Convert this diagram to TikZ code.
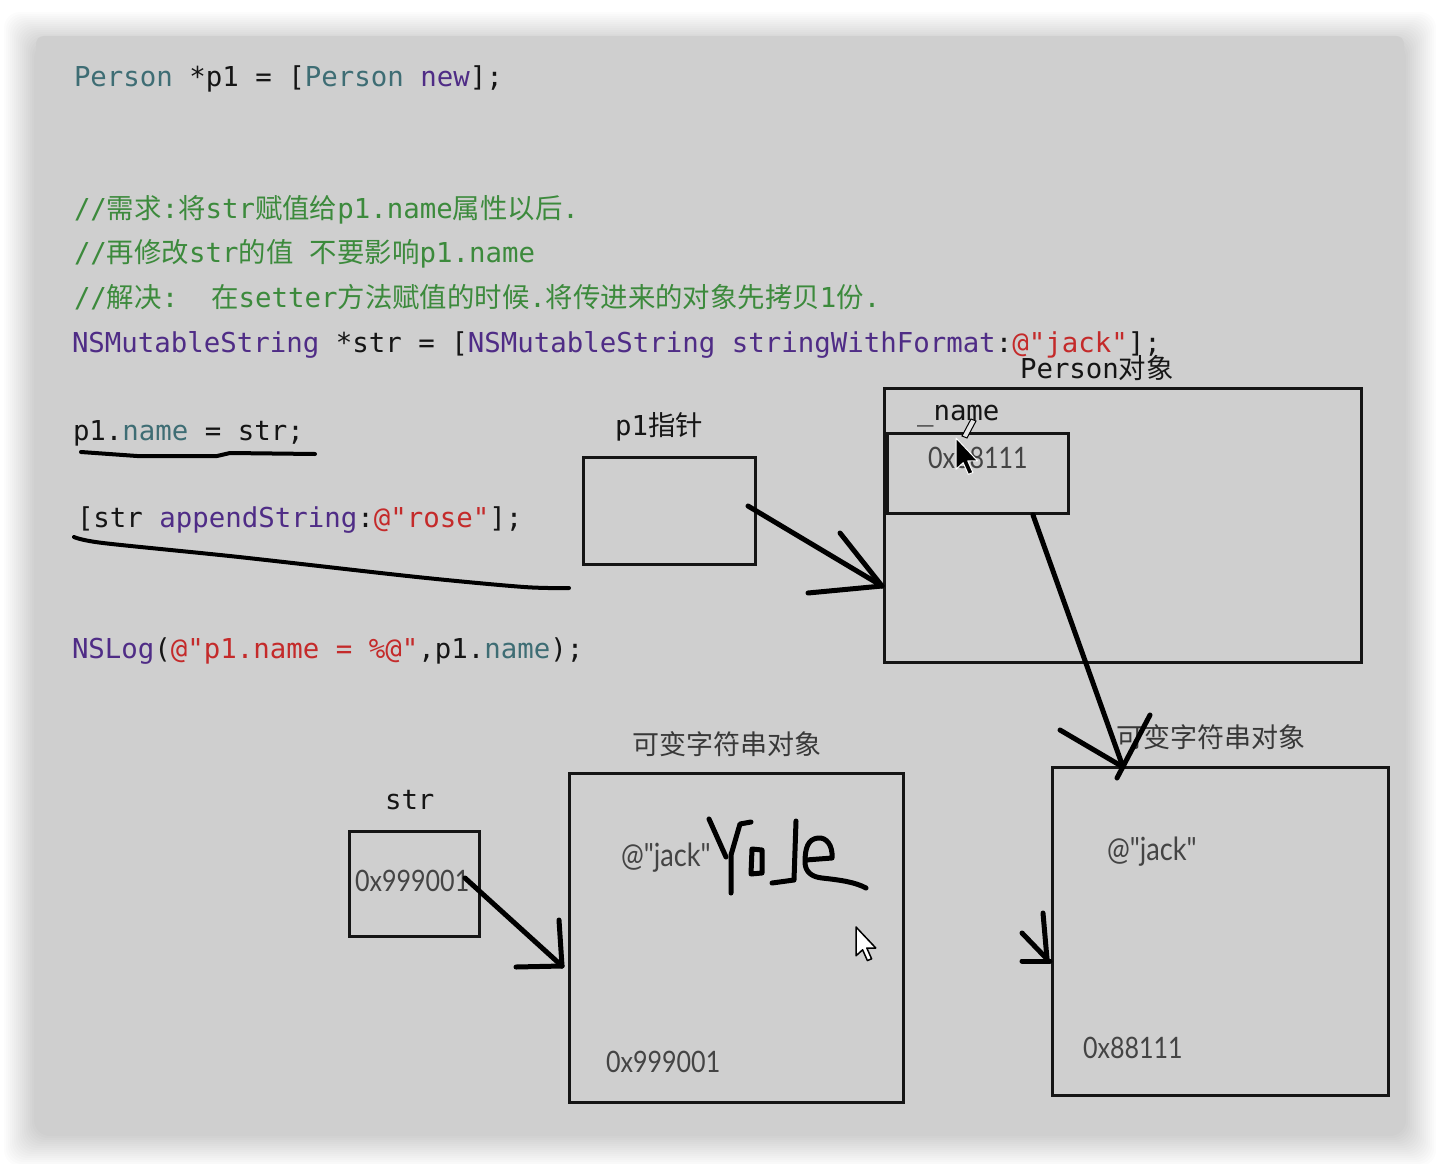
\documentclass[tikz,border=0pt]{standalone}
\usepackage{fontspec}
\usepackage{xcolor}
\newfontfamily\codefont{DejaVu Sans Mono}
\newfontfamily\cjkfont{Noto Sans CJK SC}
\newfontfamily\handfont[FakeStretch=0.85]{Lato}
\newcommand{\zhc}[1]{{\cjkfont #1}}

\definecolor{panel}{HTML}{CFCFCF}
\definecolor{ink}{HTML}{151515}
\definecolor{cteal}{HTML}{3E6D74}
\definecolor{cpurp}{HTML}{4F2C86}
\definecolor{cred}{HTML}{C42A2A}
\definecolor{cgreen}{HTML}{3C8A3C}

\tikzset{
  code/.style={anchor=base west, inner sep=0pt, outer sep=0pt, text=ink,
    font=\codefont\fontsize{27.4}{30}\selectfont},
  cmt/.style={code, text=cgreen},
  zhlabel/.style={anchor=base west, inner sep=0pt, outer sep=0pt, text=ink!85,
    font=\cjkfont\fontsize{27}{30}\selectfont},
  hw/.style={anchor=base west, inner sep=0pt, outer sep=0pt, text=ink!80,
    font=\handfont\fontsize{29.5}{32}\selectfont},
  hwq/.style={hw, font=\handfont\fontsize{32}{34}\selectfont},
  membox/.style={draw=ink, line width=3pt, anchor=north west, inner sep=0pt, outer sep=0pt},
  hand/.style={draw=black, line width=5pt, line cap=round, line join=round},
  thinhand/.style={draw=black, line width=4pt, line cap=round, line join=round},
  cursorw/.style={fill=white, draw=black, line width=1.5pt, line join=round},
  cursorb/.style={fill=black, draw=white, line width=1pt, line join=round},
}

\begin{document}
\begin{tikzpicture}[x=1pt, y=-1pt]
\useasboundingbox (0,0) rectangle (1440,1164);
\fill[white] (0,0) rectangle (1440,1164);
% shadow
\foreach \i in {1,...,16} {
  \fill[black, opacity=0.011, rounded corners=16pt] (36-2*\i, 44-2*\i) rectangle (1404+2*\i, 1134+2*\i);
}
\fill[panel, rounded corners=8pt] (36,36) rectangle (1404,1128);

% code
\node[code] (l1) at (74,86) {\textcolor{cteal}{Person} *p1 = [\textcolor{cteal}{Person} \textcolor{cpurp}{new}];};
\node[cmt] (c1) at (74,218) {//\zhc{需求}:\zhc{将}str\zhc{赋值给}p1.name\zhc{属性以后}.};
\node[cmt] (c2) at (74,262) {//\zhc{再修改}str\zhc{的值} \zhc{不要影响}p1.name};
\node[cmt] (c3) at (74,307) {//\zhc{解决}:\ \ \zhc{在}setter\zhc{方法赋值的时候}.\zhc{将传进来的对象先拷贝}1\zhc{份}.};
\node[code] (l5) at (72,352) {\textcolor{cpurp}{NSMutableString} *str = [\textcolor{cpurp}{NSMutableString stringWithFormat}:\textcolor{cred}{@"jack"}];};
\node[code] (l6) at (73,440) {p1.\textcolor{cteal}{name} = str;};
\node[code] (l7) at (77,527) {[str \textcolor{cpurp}{appendString}:\textcolor{cred}{@"rose"}];};
\node[code] (l8) at (72,658) {\textcolor{cpurp}{NSLog}(\textcolor{cred}{@"p1.name = \%@"},p1.\textcolor{cteal}{name});};

% underlines
\draw[thinhand] (81,452) -- (137,456) -- (217,456) -- (230,453) -- (315,454);
\draw[thinhand] plot[smooth] coordinates {(74,537) (103,543) (239,557) (417,577) (524,587) (569,588)};

% boxes
\node[membox, minimum width=477pt, minimum height=274pt] (person) at (884,388) {};
\node[membox, minimum width=181pt, minimum height=80pt] (namebox) at (887,433) {};
\node[membox, minimum width=172pt, minimum height=107pt] (p1box) at (583,457) {};
\node[membox, minimum width=130pt, minimum height=105pt] (strbox) at (349,831) {};
\node[membox, minimum width=334pt, minimum height=329pt] (midbox) at (569,773) {};
\node[membox, minimum width=336pt, minimum height=328pt] (rightbox) at (1052,767) {};

% labels
\node[code] (lperson) at (1020,378) {Person\zhc{对象}};
\node[code] (lp1) at (615,435) {p1\zhc{指针}};
\node[code] (lname) at (917,420) {\_name};
\node[code] (lstr) at (385,809) {str};
\node[zhlabel] (lmid) at (632,754) {可变字符串对象};
\node[zhlabel] (lright) at (1116,747) {可变字符串对象};

% values
\node[hw] (t1) at (928,468) {0x88111};
\node[hw] (t2) at (355,891) {0x999001};
\node[hwq] (t3) at (621,866) {@"jack"};
\node[hw] (t4) at (606,1072) {0x999001};
\node[hwq] (t5) at (1107,860) {@"jack"};
\node[hw] (t6) at (1083,1058) {0x88111};

% hand-drawn arrows
\coordinate (a1s) at (748,506); \coordinate (a1e) at (882,586);
\draw[hand] (a1s) -- (a1e);
\draw[hand] (840,533) -- (a1e);
\draw[hand] (808,593) -- (a1e);

\coordinate (a2s) at (1033,515); \coordinate (a2e) at (1123,767);
\draw[hand] (a2s) -- (a2e);
\draw[hand] (1060,730) -- (a2e);
\draw[hand] (1150,715) -- (1117,778);

\coordinate (a3s) at (465,878); \coordinate (a3e) at (562,966);
\draw[hand] (a3s) -- (a3e);
\draw[hand] (559,920) -- (a3e);
\draw[hand] (516,967) -- (a3e);

\coordinate (a4e) at (1047,959);
\draw[hand] (1043,913) -- (a4e);
\draw[hand] (1022,933) -- (a4e);
\draw[hand] (1022,961) -- (1050,961);

% scribble "rose"
\draw[hand] (709,819) -- (726,857);
\draw[hand] (731,893) -- (731,855) -- (740,824) -- (751,822);
\draw[hand] (752,849) -- (751,874) -- (762,873) -- (762,850) -- cycle;
\draw[hand] (796,821) .. controls (795,850) .. (794,880) -- (772,883);
\draw[hand] (806,860) -- (832,858) .. controls (833,845) and (826,837) .. (818,838)
   .. controls (808,839) and (805,848) .. (805,862) .. controls (805,872) and (812,877) .. (822,878)
   .. controls (840,880) and (855,882) .. (866,888);

% pencil mark and cursors
\draw[line width=1pt, fill=white!80!gray] (962,436) -- (971,419) -- (976,421) -- (967,438) -- cycle;
\draw[cursorb, shift={(956,438)}, scale=1.3] (0,0) -- (0,24) -- (5.5,19) -- (9.5,28) -- (13,26.5) -- (9,17.5) -- (16.5,17.5) -- cycle;
\draw[cursorw, shift={(856,927)}, scale=1.2] (0,0) -- (0,24) -- (5.5,19) -- (9.5,28) -- (13,26.5) -- (9,17.5) -- (16.5,17.5) -- cycle;
\end{tikzpicture}
\end{document}
